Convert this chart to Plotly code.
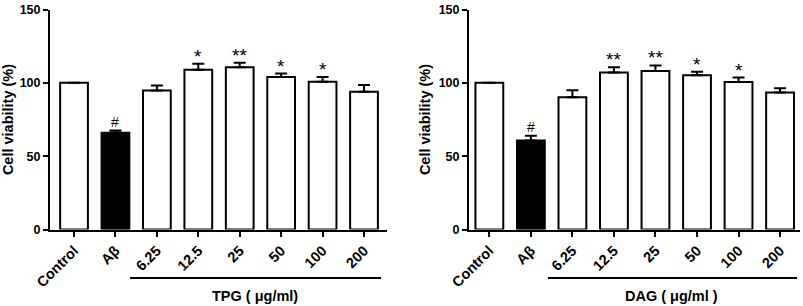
import plotly.graph_objects as go

categories = ["Control", "Aβ", "6.25", "12.5", "25", "50", "100", "200"]
tpg_values = [100, 66, 94.8, 109, 110.7, 104, 100.8, 94]
tpg_errors = [0, 1.5, 3.4, 4.0, 3.0, 2.3, 3.2, 4.5]
tpg_marks = ["", "#", "", "*", "**", "*", "*", ""]
dag_values = [100, 60.6, 90.2, 107, 108.1, 105.1, 100.6, 93.4]
dag_errors = [0, 3.4, 4.7, 3.6, 3.8, 2.5, 3.0, 2.9]
dag_marks = ["", "#", "", "**", "**", "*", "*", ""]
y_ticks = [0, 50, 100, 150]
panel_titles = ["TPG ( μg/ml)", "DAG ( μg/ml )"]

W, H = 803, 306
FONT = "Liberation Sans, Arial, sans-serif"

fig = go.Figure()

panels = [
    dict(vals=tpg_values, errs=tpg_errors, marks=tpg_marks, xa="x", ya="y",
         dom=[50 / W, 387 / W], rng=[-0.58, 7.555], title=panel_titles[0],
         line=[130, 381], tx=255),
    dict(vals=dag_values, errs=dag_errors, marks=dag_marks, xa="x2", ya="y2",
         dom=[469 / W, 800 / W], rng=[-0.49, 7.48], title=panel_titles[1],
         line=[548, 797], tx=671),
]

ydom = [(H - 229.5) / H, (H - 9.5) / H]

for i, p in enumerate(panels):
    x = list(range(len(categories)))
    colors = ["white"] * len(categories)
    colors[1] = "black"
    fig.add_trace(go.Bar(
        x=x, y=p["vals"], xaxis=p["xa"], yaxis=p["ya"], width=0.67,
        marker=dict(color=colors, line=dict(color="black", width=2)),
        error_y=dict(type="data", array=p["errs"], arrayminus=[0] * len(x),
                     symmetric=False, color="black", thickness=2, width=6,
                     visible=True),
        showlegend=False, hoverinfo="skip",
    ))
    for xi, (v, e, m) in enumerate(zip(p["vals"], p["errs"], p["marks"])):
        if m:
            is_hash = m == "#"
            fig.add_annotation(x=xi, y=v + e, xref=p["xa"], yref=p["ya"],
                               text=m, showarrow=False, yanchor="bottom",
                               yshift=-1 if is_hash else -5,
                               font=dict(family=FONT, size=14 if is_hash else 19,
                                         color="black"))
    sfx = "" if i == 0 else "2"
    fig.update_layout(**{
        "xaxis" + sfx: dict(domain=p["dom"], range=p["rng"], anchor="y" + sfx,
                            tickmode="array", tickvals=x, ticktext=categories,
                            tickangle=-45, showline=True, linecolor="black",
                            linewidth=2, ticks="outside", ticklen=5,
                            tickwidth=2, tickcolor="black", showgrid=False,
                            zeroline=False, automargin=False,
                            tickfont=dict(family=FONT, size=14.5, color="black",
                                          weight="bold")),
        "yaxis" + sfx: dict(domain=ydom, range=[0, 150], anchor="x" + sfx,
                            tickvals=y_ticks, showline=True, linecolor="black",
                            linewidth=2, ticks="outside", ticklen=5,
                            tickwidth=2, tickcolor="black", showgrid=False,
                            zeroline=False, automargin=False,
                            title=dict(text="Cell viability (%)", standoff=5,
                                       font=dict(family=FONT, size=14.5,
                                                 color="black", weight="bold")),
                            tickfont=dict(family=FONT, size=12.5, color="black",
                                          weight="bold")),
    })
    fig.add_shape(type="line", xref="paper", yref="paper",
                  x0=p["line"][0] / W, x1=p["line"][1] / W,
                  y0=(H - 278) / H, y1=(H - 278) / H,
                  line=dict(color="black", width=2))
    fig.add_annotation(x=p["tx"] / W, y=(H - 296) / H, xref="paper",
                       yref="paper", text=p["title"], showarrow=False,
                       xanchor="center", yanchor="middle",
                       font=dict(family=FONT, size=14.5, color="black",
                                 weight="bold"))

fig.update_layout(width=W, height=H, margin=dict(l=0, r=0, t=0, b=0),
                  paper_bgcolor="white", plot_bgcolor="white", bargap=0.33)

fig.write_html("out.html", config={"displayModeBar": False},
               post_script="document.body.style.margin='0';"
                           "document.body.style.padding='0';")
